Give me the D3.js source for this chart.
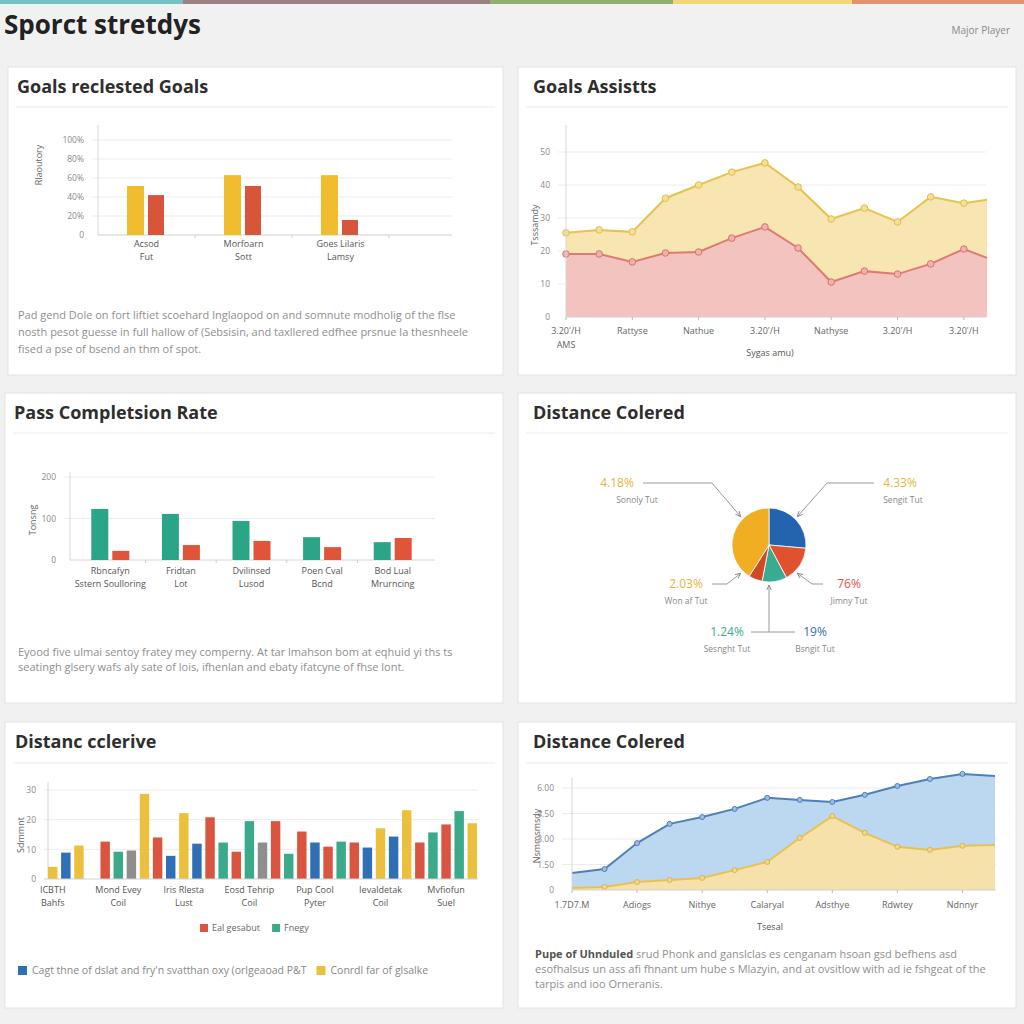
<!DOCTYPE html>
<html><head><meta charset="utf-8">
<script src="https://cdn.jsdelivr.net/npm/d3@7"></script>
<style>
html,body{margin:0;padding:0;background:#f1f1f1;}
svg{display:block;font-family:"Open Sans","Noto Sans",sans-serif;}
</style></head>
<body><svg id="c" width="1024" height="1024"></svg>
<script>
// ---------- DATA ----------
const pageTitle = "Sporct stretdys";
const pageTag = "Major Player";
const stripColors = ["#74c2c4","#9b8280","#8fb070","#f1d874","#e2936c"];
const stripStops = [0,183,490,673,852,1024];

// Panel 1: grouped bars
const p1Title = "Goals reclested Goals";
const p1Cats = [["Acsod","Fut"],["Morfoarn","Sott"],["Goes Lilaris","Lamsy"]];
const p1Goals = [51.6, 63, 63];
const p1Other = [42, 51.6, 15.8];
const p1Ticks = [0,20,40,60,80,100];
const p1YTitle = "Rlaoutory";
const p1Text = ["Pad gend Dole on fort liftiet scoehard lnglaopod on and somnute modholig of the flse",
 "nosth pesot guesse in full hallow of (Sebsisin, and taxllered edfhee prsnue la thesnheele",
 "fised a pse of bsend an thm of spot."];

// Panel 2: overlapping areas
const p2Title = "Goals Assistts";
const p2X = [0,1,2,3,4,5,6,7,8,9,10,11,12,12.7];
const p2Yellow = [25.5,26.4,25.8,36,40,43.9,46.7,39.4,29.7,33,28.8,36.4,34.5,35.5];
const p2Red = [19.1,19.1,16.7,19.4,19.7,23.9,27.3,20.9,10.6,13.9,13.0,16.1,20.6,17.9];
const p2XLabels = ["3.20'/H","Rattyse","Nathue","3.20'/H","Nathyse","3.20'/H","3.20'/H"];
const p2Ticks = [0,10,20,30,40,50];
const p2YTitle = "Tsssamdy";
const p2XTitle = "Sygas amu)";
const p2Sub = "AMS";

// Panel 3: grouped bars
const p3Title = "Pass Completsion Rate";
const p3Cats = [["Rbncafyn","Sstern Soulloring"],["Fridtan","Lot"],["Dvilinsed","Lusod"],["Poen Cval","Bcnd"],["Bod Lual","Mrurncing"]];
const p3Teal = [123,111,94,55,43];
const p3Red = [22,36,46,31,53];
const p3Ticks = [0,100,200];
const p3YTitle = "Tonsng";
const p3Text = ["Eyood five ulmai sentoy fratey mey comperny. At tar lmahson bom at eqhuid yi ths ts",
 "seatingh glsery wafs aly sate of lois, ifhenlan and ebaty ifatcyne of fhse lont."];

// Panel 4: pie
const p4Title = "Distance Colered";
const pieValues = [26.4, 15.8, 10.8, 6.0, 41.0];
const pieColors = ["#2463ae","#e0522e","#3aaa90","#cf4a25","#f2ae22"];
const pieLabelPct = ["4.18%","4.33%","2.03%","76%","1.24%","19%"];
const pieLabelSub = ["Sonoly Tut","Sengit Tut","Won af Tut","Jimny Tut","Sesnght Tut","Bsngit Tut"];
const pieLabelColor = ["#e6b53c","#e6b53c","#eab13a","#d9534f","#3aaa90","#2f6fb5"];

// Panel 5: many bars
const p5Title = "Distanc cclerive";
const p5Values = [4.1,8.9,11.3,null,12.6,9.2,9.6,28.7,14.0,7.8,22.2,11.9,20.8,12.3,9.2,19.5,12.3,19.5,8.5,16.0,12.3,10.9,12.6,12.3,10.6,17.1,14.3,23.2,12.3,15.7,18.4,22.9,18.8];
const p5Series = ["Y","B","Y",null,"R","T","G","Y","R","B","Y","B","R","T","R","T","G","R","T","R","B","R","T","R","B","Y","B","Y","R","T","R","T","Y"];
const p5Cats = [["ICBTH","Bahfs"],["Mond Evey","Coil"],["Iris Rlesta","Lust"],["Eosd Tehrip","Coil"],["Pup Cool","Pyter"],["Ievaldetak","Coil"],["Mvfiofun","Suel"]];
const p5Ticks = [0,10,20,30];
const p5YTitle = "Sdmmnt";
const p5Legend1 = [["R","Eal gesabut"],["T","Fnegy"]];
const p5Legend2 = [["B","Cagt thne of dslat and fry'n svatthan oxy (orlgeaoad P&T"],["Y","Conrdl far of glsalke"]];

// Panel 6: overlapping areas
const p6Title = "Distance Colered";
const p6Blue = [1.0,1.23,2.76,3.89,4.29,4.77,5.42,5.3,5.18,5.6,6.12,6.53,6.83,6.7];
const p6Yellow = [0.12,0.18,0.47,0.59,0.71,1.17,1.65,3.06,4.35,3.36,2.54,2.36,2.6,2.64];
const p6XLabels = ["1.7D7.M","Adiogs","Nithye","Calaryal","Adsthye","Rdwtey","Ndnnyr"];
const p6Ticks = [0,1.5,3,4.5,6];
const p6YTitle = "Nsmmsmsdy";
const p6XTitle = "Tsesal";
const p6TextBold = "Pupe of Uhnduled";
const p6Text = [" srud Phonk and ganslclas es cenganam hsoan gsd befhens asd",
 "esofhalsus un ass afi fhnant um hube s Mlazyin, and at ovsitlow with ad ie fshgeat of the",
 "tarpis and ioo Orneranis."];

// ---------- DRAW ----------
const svg = d3.select("#c");
const C = {Y:"#ecc03f",B:"#2f6fb5",R:"#d9553f",T:"#3aaa8a",G:"#8e8e8e"};
const tickCol = "#8a8a8a", axisCol = "#d6d6d6", gridCol = "#ececec";

// top strip
svg.selectAll("rect.strip").data(stripColors).join("rect")
  .attr("x",(d,i)=>stripStops[i]).attr("y",0)
  .attr("width",(d,i)=>stripStops[i+1]-stripStops[i]).attr("height",4).attr("fill",d=>d);
svg.append("text").attr("x",4).attr("y",34).attr("font-size",26).attr("font-weight",700)
  .attr("fill","#222").text(pageTitle);
svg.append("text").attr("x",1010).attr("y",34).attr("text-anchor","end").attr("font-size",10)
  .attr("fill","#8a8a8a").text(pageTag);

// panels
const panels = [
 {x:8,y:67,w:495,h:308,t:p1Title,tx:17,ty:93,ly:107},
 {x:518,y:67,w:498,h:308,t:p2Title,tx:533,ty:93,ly:107},
 {x:5,y:393,w:498,h:310,t:p3Title,tx:14,ty:419,ly:433},
 {x:518,y:393,w:498,h:310,t:p4Title,tx:533,ty:419,ly:433},
 {x:5,y:722,w:498,h:286,t:p5Title,tx:15,ty:748,ly:763},
 {x:518,y:722,w:498,h:286,t:p6Title,tx:533,ty:748,ly:763}];
panels.forEach(p=>{
  svg.append("rect").attr("x",p.x).attr("y",p.y).attr("width",p.w).attr("height",p.h)
    .attr("fill","#fff").attr("stroke","#e4e4e4");
  svg.append("text").attr("x",p.tx).attr("y",p.ty).attr("font-size",18).attr("font-weight",700)
    .attr("fill","#2e2e2e").text(p.t);
  svg.append("line").attr("x1",p.x+8).attr("x2",p.x+p.w-8).attr("y1",p.ly).attr("y2",p.ly)
    .attr("stroke","#ececec");
});

function yAxis(g, scale, ticks, fmt, x, x2){
  g.append("g").attr("transform",`translate(${x},0)`)
   .call(d3.axisLeft(scale).tickValues(ticks).tickFormat(fmt).tickSize(0).tickPadding(8))
   .call(a=>a.select(".domain").remove())
   .call(a=>a.selectAll("text").attr("fill",tickCol).attr("font-size",8.5).attr("font-family","Open Sans"));
  g.selectAll(null).data(ticks.filter(t=>t>0)).join("line")
   .attr("x1",x).attr("x2",x2).attr("y1",d=>scale(d)).attr("y2",d=>scale(d))
   .attr("stroke",gridCol);
}
function rotTitle(x,y,t){
  svg.append("text").attr("transform",`translate(${x},${y}) rotate(-90)`).attr("text-anchor","middle")
   .attr("font-size",9).attr("fill","#666").text(t);
}
function para(lines,x,y,dy){
  const t = svg.append("text").attr("font-size",11).attr("fill","#8f8f8f");
  lines.forEach((l,i)=>t.append("tspan").attr("x",x).attr("y",y+i*dy).text(l));
  return t;
}
function catLabels(lines, xf, y){
  lines.forEach((c,i)=>{
    const t = svg.append("text").attr("text-anchor","middle").attr("font-size",9).attr("fill","#555");
    c.forEach((s,j)=>t.append("tspan").attr("x",xf(i)).attr("y",y+j*13).text(s));
  });
}

// ---- Panel 1 ----
{
  const g = svg.append("g");
  const x = d3.scaleBand().domain([0,1,2,3]).range([98,486]);
  const y = d3.scaleLinear().domain([0,100]).range([235,140]);
  yAxis(g,y,p1Ticks,d=>d===0?"0":d+"%",92,452);
  g.append("line").attr("x1",98).attr("x2",98).attr("y1",125).attr("y2",235).attr("stroke",axisCol);
  g.append("line").attr("x1",98).attr("x2",452).attr("y1",235).attr("y2",235).attr("stroke","#cfcfcf");
  g.selectAll(null).data([0,1,2]).join("line").attr("x1",d=>x(d)+x.bandwidth()).attr("x2",d=>x(d)+x.bandwidth())
    .attr("y1",235).attr("y2",238).attr("stroke","#cfcfcf");
  const cx = i=>x(i)+x.bandwidth()/2;
  g.selectAll(null).data(p1Goals).join("rect").attr("x",(d,i)=>cx(i)-19.5).attr("width",17)
    .attr("y",d=>y(d)).attr("height",d=>235-y(d)).attr("fill","#f0bd2e");
  g.selectAll(null).data(p1Other).join("rect").attr("x",(d,i)=>cx(i)+1.5).attr("width",16)
    .attr("y",d=>y(d)).attr("height",d=>235-y(d)).attr("fill","#d9553a");
  catLabels(p1Cats,cx,247);
  rotTitle(42,165,p1YTitle);
  para(p1Text,18,319,17);
}

// ---- Panel 2 ----
{
  const g = svg.append("g");
  const x = d3.scaleLinear().domain([0,13]).range([566,997]);
  const y = d3.scaleLinear().domain([0,50]).range([317,152]);
  yAxis(g,y,p2Ticks,d3.format("d"),558,986);
  const areaY = d3.area().x((d,i)=>x(p2X[i])).y0(317).y1(d=>y(d));
  const lineY = d3.line().x((d,i)=>x(p2X[i])).y(d=>y(d));
  g.append("path").datum(p2Yellow).attr("d",areaY).attr("fill","#f8e6b2");
  g.append("path").datum(p2Red).attr("d",areaY).attr("fill","#f3c3c0");
  g.append("path").datum(p2Yellow).attr("d",lineY).attr("fill","none").attr("stroke","#e6c24f").attr("stroke-width",2);
  g.append("path").datum(p2Red).attr("d",lineY).attr("fill","none").attr("stroke","#dd7b72").attr("stroke-width",2);
  g.selectAll(null).data(p2Yellow.slice(0,13)).join("circle").attr("cx",(d,i)=>x(p2X[i])).attr("cy",d=>y(d))
    .attr("r",3.3).attr("fill","#f3df9a").attr("stroke","#e2bd48");
  g.selectAll(null).data(p2Red.slice(0,13)).join("circle").attr("cx",(d,i)=>x(p2X[i])).attr("cy",d=>y(d))
    .attr("r",3.3).attr("fill","#f0b2ac").attr("stroke","#d9746b");
  g.append("line").attr("x1",566).attr("x2",566).attr("y1",125).attr("y2",317).attr("stroke",axisCol);
  g.append("line").attr("x1",566).attr("x2",986).attr("y1",317).attr("y2",317).attr("stroke","#d0d0d0");
  const xt = p2XLabels.map((l,i)=>i*2);
  g.selectAll(null).data(xt).join("line").attr("x1",d=>x(d)).attr("x2",d=>x(d)).attr("y1",317).attr("y2",320).attr("stroke","#bbb");
  g.selectAll(null).data(p2XLabels).join("text").attr("x",(d,i)=>x(xt[i])).attr("y",334)
    .attr("text-anchor","middle").attr("font-size",9).attr("fill","#666").text(d=>d);
  svg.append("text").attr("x",x(0)).attr("y",348).attr("text-anchor","middle").attr("font-size",9).attr("fill","#666").text(p2Sub);
  svg.append("text").attr("x",770).attr("y",356).attr("text-anchor","middle").attr("font-size",9).attr("fill","#555").text(p2XTitle);
  rotTitle(538,225,p2YTitle);
}

// ---- Panel 3 ----
{
  const g = svg.append("g");
  const x = d3.scaleBand().domain(d3.range(p3Cats.length)).range([75,428]);
  const y = d3.scaleLinear().domain([0,200]).range([560,477]);
  yAxis(g,y,p3Ticks,d3.format("d"),64,435);
  g.append("line").attr("x1",70).attr("x2",70).attr("y1",472).attr("y2",560).attr("stroke",axisCol);
  g.append("line").attr("x1",70).attr("x2",435).attr("y1",560).attr("y2",560).attr("stroke","#d6d6d6");
  g.selectAll(null).data(d3.range(p3Cats.length-1)).join("line").attr("x1",d=>x(d)+x.bandwidth()).attr("x2",d=>x(d)+x.bandwidth())
    .attr("y1",560).attr("y2",563).attr("stroke","#ccc");
  const cx = i=>x(i)+x.bandwidth()/2;
  g.selectAll(null).data(p3Teal).join("rect").attr("x",(d,i)=>cx(i)-19).attr("width",17)
    .attr("y",d=>y(d)).attr("height",d=>560-y(d)).attr("fill","#2aa587");
  g.selectAll(null).data(p3Red).join("rect").attr("x",(d,i)=>cx(i)+2).attr("width",17)
    .attr("y",d=>y(d)).attr("height",d=>560-y(d)).attr("fill","#e0553a");
  catLabels(p3Cats,cx,574);
  rotTitle(36,520,p3YTitle);
  para(p3Text,18,656,15);
}

// ---- Panel 4: pie ----
{
  const cx0 = 769, cy0 = 545, r = 37;
  const g = svg.append("g").attr("transform",`translate(${cx0},${cy0})`);
  const pie = d3.pie().sort(null).value(d=>d);
  const arcs = pie(pieValues);
  const arc = d3.arc().innerRadius(0).outerRadius(r);
  g.selectAll(null).data(arcs).join("path").attr("d",arc).attr("fill",(d,i)=>pieColors[i])
    .attr("stroke","#fff").attr("stroke-width",0.8);
  const defs = svg.append("defs");
  defs.append("marker").attr("id","arr").attr("viewBox","0 0 10 10").attr("refX",9).attr("refY",5)
    .attr("markerWidth",6).attr("markerHeight",6).attr("orient","auto-start-reverse")
    .append("path").attr("d","M0,1 L9,5 L0,9").attr("fill","none").attr("stroke","#888").attr("stroke-width",1.5);
  // label anchors (relative to centre): [labelX,labelY, elbowX, tipAngleDeg]
  const lab = [[-152,-58,-57,-45],[131,-58,58,45],[-83,43,-42,225],[80,43,43,135],[-42,91,0,180],[46,91,0,180]];
  const pt = (deg,rr)=>[Math.sin(deg*Math.PI/180)*rr, -Math.cos(deg*Math.PI/180)*rr];
  lab.forEach((L,i)=>{
    const t = g.append("text").attr("x",L[0]).attr("y",L[1]).attr("text-anchor","middle");
    t.append("tspan").attr("font-size",12).attr("fill",pieLabelColor[i]).text(pieLabelPct[i]);
    g.append("text").attr("x",L[0]+(i<2?(i===0?20:3):0)).attr("y",L[1]+16).attr("text-anchor","middle")
      .attr("font-size",8.5).attr("fill","#888").text(pieLabelSub[i]);
  });
  const lineCol = "#9a9a9a";
  [0,1,2,3].forEach(i=>{
    const L = lab[i], tip = pt(L[3], r+3), y0 = L[1]-4;
    const startX = L[0] + (L[0]<0 ? 26 : -26);
    g.append("path").attr("d",`M${startX},${y0} L${L[2]},${y0} L${tip[0]},${tip[1]}`)
      .attr("fill","none").attr("stroke",lineCol).attr("stroke-width",1).attr("marker-end","url(#arr)");
  });
  const by = lab[4][1]-4;
  g.append("path").attr("d",`M${lab[4][0]+24},${by} L${lab[5][0]-20},${by}`).attr("stroke",lineCol).attr("fill","none");
  g.append("path").attr("d",`M0,${by} L0,${r+3}`).attr("stroke",lineCol).attr("fill","none").attr("marker-end","url(#arr)");
}

// ---- Panel 5 ----
{
  const g = svg.append("g");
  const x = d3.scaleBand().domain(d3.range(p5Values.length)).range([48,48+13*p5Values.length]).paddingInner(0.28).paddingOuter(0);
  const y = d3.scaleLinear().domain([0,30]).range([879,790]);
  yAxis(g,y,p5Ticks,d3.format("d"),44,478);
  g.append("line").attr("x1",48).attr("x2",48).attr("y1",782).attr("y2",879).attr("stroke",axisCol);
  const bars = p5Values.map((v,i)=>({v,i,s:p5Series[i]})).filter(d=>d.v!==null);
  g.selectAll(null).data(bars).join("rect").attr("x",d=>x(d.i)).attr("width",x.bandwidth())
    .attr("y",d=>y(d.v)).attr("height",d=>879-y(d.v)).attr("fill",d=>C[d.s]);
  g.append("line").attr("x1",44).attr("x2",478).attr("y1",879).attr("y2",879).attr("stroke","#d0d0d0");
  catLabels(p5Cats,i=>x(i*5)+x.bandwidth()/2,893);
  rotTitle(24,835,p5YTitle);
  const lg = svg.append("g");
  let lx = 200;
  p5Legend1.forEach(([s,t])=>{
    lg.append("rect").attr("x",lx).attr("y",924).attr("width",8).attr("height",8).attr("fill",C[s]);
    const tt = lg.append("text").attr("x",lx+12).attr("y",931).attr("font-size",9).attr("fill","#666").text(t);
    lx += 24 + tt.node().getComputedTextLength();
  });
  lx = 18;
  p5Legend2.forEach(([s,t])=>{
    lg.append("rect").attr("x",lx).attr("y",966).attr("width",9).attr("height",9).attr("fill",C[s]);
    const tt = lg.append("text").attr("x",lx+14).attr("y",974).attr("font-size",10.5).attr("fill","#888").text(t);
    lx += 24 + tt.node().getComputedTextLength();
  });
}

// ---- Panel 6 ----
{
  const g = svg.append("g");
  const x = d3.scaleLinear().domain([0,13]).range([572,995]);
  const y = d3.scaleLinear().domain([0,6]).range([890,788]);
  yAxis(g,y,p6Ticks,d=>d===0?"0":d3.format(".2f")(d),562,996);
  const area = d3.area().x((d,i)=>x(i)).y0(890).y1(d=>y(d));
  const line = d3.line().x((d,i)=>x(i)).y(d=>y(d));
  g.append("path").datum(p6Blue).attr("d",area).attr("fill","#bcd7f0");
  g.append("path").datum(p6Yellow).attr("d",area).attr("fill","#f6e1ab");
  g.append("path").datum(p6Blue).attr("d",line).attr("fill","none").attr("stroke","#4f7fb8").attr("stroke-width",2);
  g.append("path").datum(p6Yellow).attr("d",line).attr("fill","none").attr("stroke","#e8c250").attr("stroke-width",2);
  g.selectAll(null).data(p6Blue.slice(1,13)).join("circle").attr("cx",(d,i)=>x(i+1)).attr("cy",d=>y(d))
    .attr("r",2.5).attr("fill","#9cbde0").attr("stroke","#4f7fb8");
  g.selectAll(null).data(p6Yellow.slice(1,13)).join("circle").attr("cx",(d,i)=>x(i+1)).attr("cy",d=>y(d))
    .attr("r",2.5).attr("fill","#f1d88e").attr("stroke","#d9b548");
  g.append("line").attr("x1",572).attr("x2",572).attr("y1",778).attr("y2",890).attr("stroke",axisCol);
  g.append("line").attr("x1",572).attr("x2",996).attr("y1",890).attr("y2",890).attr("stroke","#d0d0d0");
  const xt = p6XLabels.map((l,i)=>i*2);
  g.selectAll(null).data(xt).join("line").attr("x1",d=>x(d)).attr("x2",d=>x(d)).attr("y1",890).attr("y2",893).attr("stroke","#bbb");
  g.selectAll(null).data(p6XLabels).join("text").attr("x",(d,i)=>x(xt[i])).attr("y",908)
    .attr("text-anchor","middle").attr("font-size",9).attr("fill","#666").text(d=>d);
  svg.append("text").attr("x",770).attr("y",930).attr("text-anchor","middle").attr("font-size",9).attr("fill","#555").text(p6XTitle);
  rotTitle(540,836,p6YTitle);
  const t = svg.append("text").attr("font-size",11).attr("fill","#8f8f8f");
  const first = t.append("tspan").attr("x",535).attr("y",958);
  first.append("tspan").attr("font-weight",700).attr("fill","#555").text(p6TextBold);
  first.append("tspan").text(p6Text[0]);
  p6Text.slice(1).forEach((l,i)=>t.append("tspan").attr("x",535).attr("y",958+(i+1)*15).text(l));
}
</script></body></html>
